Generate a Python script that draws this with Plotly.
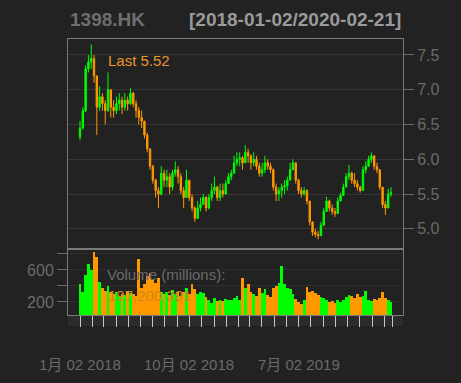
import pandas as pd
import plotly.graph_objects as go

# ---- data (weekly estimates) ----
week_start = "2018-01-02"
open_ = [6.32, 6.45, 6.70, 7.30, 7.40, 7.45, 7.20, 6.75, 6.90, 6.80, 6.70, 7.00, 6.75, 6.70, 6.80, 6.85,
         6.75, 6.85, 6.80, 6.95, 6.80, 6.70, 6.60, 6.55, 6.35, 6.15, 5.90, 5.70, 5.55, 5.50, 5.80, 5.70,
         5.75, 5.60, 5.80, 5.85, 5.75, 5.55, 5.45, 5.70, 5.45, 5.30, 5.15, 5.30, 5.35, 5.45, 5.30, 5.45,
         5.55, 5.60, 5.45, 5.55, 5.50, 5.65, 5.75, 5.80, 5.95, 6.00, 6.02, 5.95, 6.10, 6.05, 5.95, 6.00,
         5.90, 5.80, 5.85, 5.95, 5.90, 5.85, 5.60, 5.50, 5.55, 5.60, 5.62, 5.70, 5.85, 5.95, 5.70, 5.55,
         5.50, 5.55, 5.40, 5.10, 4.95, 4.92, 4.90, 5.05, 5.25, 5.40, 5.30, 5.25, 5.22, 5.40, 5.48, 5.60,
         5.75, 5.80, 5.70, 5.65, 5.60, 5.55, 5.85, 5.90, 6.00, 6.05, 5.90, 5.85, 5.60, 5.35, 5.30, 5.50]
high = [6.55, 6.75, 7.35, 7.50, 7.65, 7.50, 7.20, 7.05, 6.95, 6.85, 7.25, 7.00, 6.85, 6.90, 6.95, 6.90,
        6.95, 6.90, 7.02, 6.97, 6.85, 6.75, 6.70, 6.55, 6.38, 6.15, 5.92, 5.72, 5.60, 5.90, 5.85, 5.85,
        5.80, 5.85, 5.97, 5.90, 5.80, 5.60, 5.85, 5.70, 5.50, 5.32, 5.40, 5.45, 5.50, 5.47, 5.50, 5.65,
        5.75, 5.62, 5.65, 5.65, 5.70, 5.80, 5.85, 6.05, 6.10, 6.10, 6.05, 6.20, 6.15, 6.07, 6.10, 6.05,
        5.95, 5.95, 6.05, 6.00, 5.95, 5.87, 5.65, 5.60, 5.65, 5.70, 5.75, 5.95, 6.00, 5.95, 5.72, 5.60,
        5.60, 5.57, 5.40, 5.10, 5.00, 4.97, 5.10, 5.30, 5.46, 5.42, 5.35, 5.30, 5.45, 5.52, 5.65, 5.80,
        5.92, 5.82, 5.80, 5.70, 5.62, 5.90, 5.97, 6.05, 6.10, 6.05, 5.95, 5.85, 5.60, 5.40, 5.58, 5.60]
low = [6.28, 6.42, 6.68, 7.25, 7.30, 7.10, 6.35, 6.70, 6.70, 6.50, 6.68, 6.60, 6.60, 6.65, 6.70, 6.65,
       6.70, 6.70, 6.78, 6.75, 6.60, 6.50, 6.45, 6.30, 6.10, 5.85, 5.65, 5.45, 5.30, 5.48, 5.60, 5.60,
       5.50, 5.55, 5.75, 5.65, 5.50, 5.30, 5.45, 5.40, 5.25, 5.10, 5.15, 5.25, 5.35, 5.25, 5.28, 5.40,
       5.50, 5.40, 5.40, 5.45, 5.50, 5.65, 5.70, 5.80, 5.90, 5.90, 5.85, 5.95, 5.95, 5.85, 5.90, 5.85,
       5.75, 5.75, 5.80, 5.85, 5.80, 5.55, 5.40, 5.40, 5.45, 5.50, 5.55, 5.70, 5.85, 5.65, 5.50, 5.45,
       5.48, 5.35, 5.05, 4.90, 4.88, 4.85, 4.90, 5.05, 5.25, 5.25, 5.20, 5.17, 5.22, 5.40, 5.48, 5.60,
       5.70, 5.65, 5.60, 5.55, 5.52, 5.55, 5.80, 5.90, 5.95, 5.85, 5.80, 5.56, 5.30, 5.20, 5.30, 5.46]
close = [6.45, 6.70, 7.30, 7.40, 7.45, 7.20, 6.75, 6.90, 6.80, 6.70, 7.00, 6.75, 6.70, 6.80, 6.85, 6.75,
         6.85, 6.80, 6.95, 6.80, 6.70, 6.60, 6.55, 6.35, 6.15, 5.90, 5.70, 5.55, 5.50, 5.80, 5.70, 5.75,
         5.60, 5.80, 5.85, 5.75, 5.55, 5.45, 5.70, 5.45, 5.30, 5.15, 5.30, 5.35, 5.45, 5.30, 5.45, 5.55,
         5.60, 5.45, 5.55, 5.50, 5.65, 5.75, 5.80, 5.95, 6.00, 6.02, 5.95, 6.10, 6.05, 5.95, 6.00, 5.90,
         5.80, 5.85, 5.95, 5.90, 5.85, 5.60, 5.50, 5.55, 5.60, 5.62, 5.70, 5.85, 5.95, 5.70, 5.55, 5.50,
         5.55, 5.40, 5.10, 4.95, 4.92, 4.90, 5.05, 5.25, 5.40, 5.30, 5.25, 5.22, 5.40, 5.48, 5.60, 5.75,
         5.80, 5.70, 5.65, 5.60, 5.55, 5.85, 5.90, 6.00, 6.05, 5.90, 5.85, 5.60, 5.35, 5.30, 5.50, 5.52]
volume = [420, 320, 540, 680, 600, 820, 760, 450, 380, 340, 400, 320, 300, 330, 280, 300,
          290, 330, 310, 300, 280, 740, 380, 420, 520, 560, 480, 440, 500, 330, 300, 320,
          290, 350, 300, 320, 280, 330, 380, 300, 420, 360, 300, 320, 310, 260, 220, 190,
          250, 210, 230, 210, 240, 230, 220, 250, 280, 230, 500, 380, 420, 330, 300, 280,
          380, 310, 360, 290, 260, 380, 400, 440, 650, 420, 380, 360, 300, 240, 200, 180,
          220, 390, 330, 340, 310, 290, 260, 250, 230, 200, 210, 190, 220, 200, 230, 260,
          290, 270, 250, 300, 260, 280, 340, 230, 210, 240, 220, 250, 330, 250, 230, 200]

tick_dates = ["2018-01-02", "2018-02-01", "2018-03-01", "2018-04-03", "2018-05-02", "2018-06-01",
              "2018-07-03", "2018-08-01", "2018-09-03", "2018-10-02", "2018-11-01", "2018-12-03",
              "2019-01-02", "2019-02-01", "2019-03-01", "2019-04-01", "2019-05-02", "2019-06-03",
              "2019-07-02", "2019-08-01", "2019-09-02", "2019-10-02", "2019-11-01", "2019-12-02",
              "2020-01-02", "2020-02-03", "2020-02-21"]
label_dates = ["2018-01-02", "2018-10-02", "2019-07-02"]
label_texts = ["1月 02 2018", "10月 02 2018", "7月 02 2019"]
price_ticks = [5.0, 5.5, 6.0, 6.5, 7.0, 7.5]
vol_ticks = [200, 400, 600, 800]
vol_tick_text = ["200", "", "600", ""]

symbol = "1398.HK"
period = "[2018-01-02/2020-02-21]"
last_text = "Last 5.52"
vol_label = "Volume (millions):"
vol_last = "197,200,391"

UP = "#00ff00"
DN = "#ff9900"
BG = "#222222"
FG = "#6a6a6a"
BORDER = "#7a7a7a"
FONT = "Liberation Sans, Arial, Noto Sans CJK SC, sans-serif"

dates = pd.date_range(week_start, periods=len(close), freq="7D")
vol_colors = [UP if c > o else DN for o, c in zip(open_, close)]

fig = go.Figure()
fig.add_trace(go.Candlestick(
    x=dates, open=open_, high=high, low=low, close=close,
    increasing=dict(line=dict(color=UP, width=1), fillcolor=UP),
    decreasing=dict(line=dict(color=DN, width=1), fillcolor=DN),
    whiskerwidth=0, xaxis="x", yaxis="y", showlegend=False, hoverinfo="skip"))
fig.add_trace(go.Bar(
    x=dates, y=volume, marker=dict(color=vol_colors, line=dict(width=0)),
    xaxis="x2", yaxis="y2", showlegend=False, hoverinfo="skip"))

xr = ["2017-12-03", "2020-03-19"]
H_PLOT = 276.0
split = (315 - 249) / H_PLOT

fig.update_layout(
    width=461, height=383,
    margin=dict(l=68, r=58, t=39, b=68),
    paper_bgcolor=BG, plot_bgcolor=BG,
    font=dict(family=FONT, color=FG, size=16),
    bargap=0,
    xaxis=dict(domain=[0, 1], anchor="y", range=xr, type="date",
               showticklabels=False, ticks="", showgrid=False, zeroline=False,
               showline=True, mirror=True, linecolor=BORDER, linewidth=1,
               rangeslider=dict(visible=False)),
    xaxis2=dict(domain=[0, 1], anchor="y2", range=xr, type="date", matches="x",
                tickmode="array", tickvals=tick_dates, showticklabels=False,
                ticks="outside", ticklen=11, tickcolor="#c8c8c8", tickwidth=1,
                showgrid=False, zeroline=False,
                showline=True, mirror=True, linecolor=BORDER, linewidth=1),
    yaxis=dict(domain=[split, 1], anchor="x", side="right",
               range=[4.71, 7.73], tickmode="array", tickvals=price_ticks,
               ticktext=[f"{v:.1f}" for v in price_ticks],
               ticks="outside", ticklen=10, tickcolor=FG,
               tickfont=dict(size=16, color=FG),
               showgrid=True, gridcolor="#353535", gridwidth=1, zeroline=False,
               showline=True, mirror=True, linecolor=BORDER, linewidth=1),
    yaxis2=dict(domain=[0, split], anchor="x2", side="left",
                range=[37, 862], tickmode="array", tickvals=vol_ticks,
                ticktext=vol_tick_text,
                ticks="outside", ticklen=10, tickcolor=FG,
                tickfont=dict(size=16, color=FG),
                showgrid=True, gridcolor="#2e2e2e", gridwidth=1, zeroline=False,
                showline=True, mirror=True, linecolor=BORDER, linewidth=1),
)

# tick strip under the volume panel
fig.add_shape(type="rect", xref="paper", yref="paper", x0=0, x1=1,
              y0=-11 / H_PLOT, y1=0, fillcolor="#2b2b2b", line=dict(width=0), layer="below")

def py(pix):
    return (315 - pix) / H_PLOT

def px(pix):
    return (pix - 68) / 335.0

ann = [
    dict(text=f"<b>{symbol}</b>", x=0, y=py(20), xanchor="left", yanchor="middle",
         font=dict(size=19, color="#6e6e6e")),
    dict(text=f"<b>{period}</b>", x=1, y=py(20), xanchor="right", yanchor="middle",
         font=dict(size=19, color="#9a9a9a")),
    dict(text=last_text, x=px(106), y=py(60), xanchor="left", yanchor="middle",
         font=dict(size=15, color="#e8962a")),
    dict(text=vol_label, x=px(105), y=py(274), xanchor="left", yanchor="middle",
         font=dict(size=15, color=FG)),
    dict(text=vol_last, x=px(106), y=py(295), xanchor="left", yanchor="middle",
         font=dict(size=15, color="#d4861e")),
]
for a in ann:
    a.update(xref="paper", yref="paper", showarrow=False)
    fig.add_annotation(**a)

for d, t in zip(label_dates, label_texts):
    fig.add_annotation(text=t, x=d, xref="x2", y=py(364), yref="paper",
                       xanchor="center", yanchor="middle", showarrow=False,
                       font=dict(size=15, color=FG))

fig.write_html("out.html", config={"displayModeBar": False},
               post_script="document.body.style.margin='0';document.body.style.background='#222222';")
